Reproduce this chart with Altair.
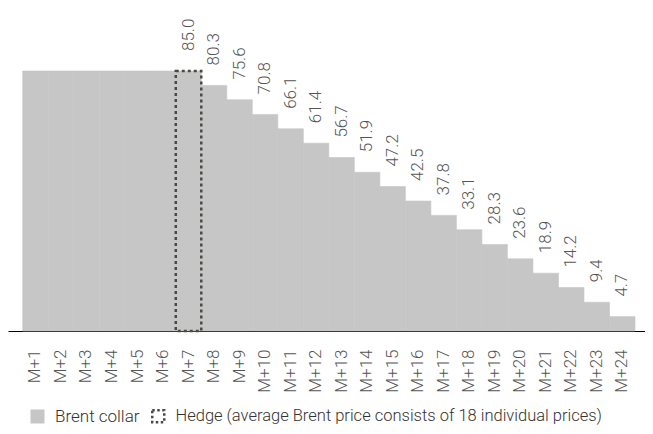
import altair as alt
import pandas as pd

months = ["M+1", "M+2", "M+3", "M+4", "M+5", "M+6", "M+7", "M+8", "M+9", "M+10",
          "M+11", "M+12", "M+13", "M+14", "M+15", "M+16", "M+17", "M+18", "M+19",
          "M+20", "M+21", "M+22", "M+23", "M+24"]
values = [85.0, 85.0, 85.0, 85.0, 85.0, 85.0, 85.0, 80.3, 75.6, 70.8, 66.1, 61.4,
          56.7, 51.9, 47.2, 42.5, 37.8, 33.1, 28.3, 23.6, 18.9, 14.2, 9.4, 4.7]
labels = ["", "", "", "", "", "", "85.0", "80.3", "75.6", "70.8", "66.1", "61.4",
          "56.7", "51.9", "47.2", "42.5", "37.8", "33.1", "28.3", "23.6", "18.9",
          "14.2", "9.4", "4.7"]
hedge_month = ["M+7"]
hedge_value = [85.0]

SERIES_A = "Brent collar"
SERIES_B = "Hedge (average Brent price consists of 18 individual prices)"
FONT = "Roboto"

df = pd.DataFrame({"month": months, "value": values, "label": labels,
                   "series": [SERIES_A] * len(months)})
dh = pd.DataFrame({"month": hedge_month, "value": hedge_value,
                   "series": [SERIES_B]})

x = alt.X("month:N", sort=months,
          scale=alt.Scale(paddingInner=0, paddingOuter=0.484, align=0.595),
          axis=alt.Axis(title=None, labelAngle=-90, ticks=False, domainColor="#000",
                        domainWidth=1, labelPadding=18, labelFontSize=17,
                        labelColor="#555", labelFont=FONT, labelFontWeight=300))
y = alt.Y("value:Q", scale=alt.Scale(domain=[0, 85], nice=False, zero=True), axis=None)

bars = alt.Chart(df).mark_bar(stroke="#c6c6c6", strokeWidth=0.6).encode(
    x=x, y=y,
    fill=alt.Fill("series:N", scale=alt.Scale(domain=[SERIES_A], range=["#c6c6c6"]),
                  legend=alt.Legend(title=None, orient="none", legendX=21, legendY=337,
                                    padding=0, symbolType="square", symbolSize=196,
                                    symbolStrokeWidth=0, labelOffset=9,
                                    labelFont=FONT, labelFontSize=17, labelFontWeight=300,
                                    labelColor="#333", labelLimit=600)),
)

hedge = alt.Chart(dh).mark_bar(filled=False, strokeWidth=2.5, strokeDash=[3, 3]).encode(
    x=x, y=y,
    stroke=alt.Stroke("series:N", scale=alt.Scale(domain=[SERIES_B], range=["#4a4a44"]),
                      legend=alt.Legend(title=None, orient="none", legendX=142, legendY=337,
                                        padding=0, symbolType="square", symbolSize=144,
                                        symbolDash=[2.5, 2.5], symbolStrokeWidth=2.5,
                                        labelOffset=9,
                                        labelFont=FONT, labelFontSize=16.5, labelFontWeight=300,
                                        labelColor="#333", labelLimit=600)),
)

text = alt.Chart(df).mark_text(angle=270, align="left", baseline="middle", dx=20,
                               fontSize=17, font=FONT, fontWeight=300,
                               color="#555").encode(
    x=x, y=y, text="label:N")

chart = alt.layer(bars, hedge, text).resolve_legend(fill="independent", stroke="independent").properties(
    width=637, height=260,
    autosize=alt.AutoSizeParams(type="none"),
    padding={"left": 0, "top": 63, "right": 0, "bottom": 95},
).configure_view(stroke=None)

chart.save("out.html", embed_options={"renderer": "svg", "actions": False})
